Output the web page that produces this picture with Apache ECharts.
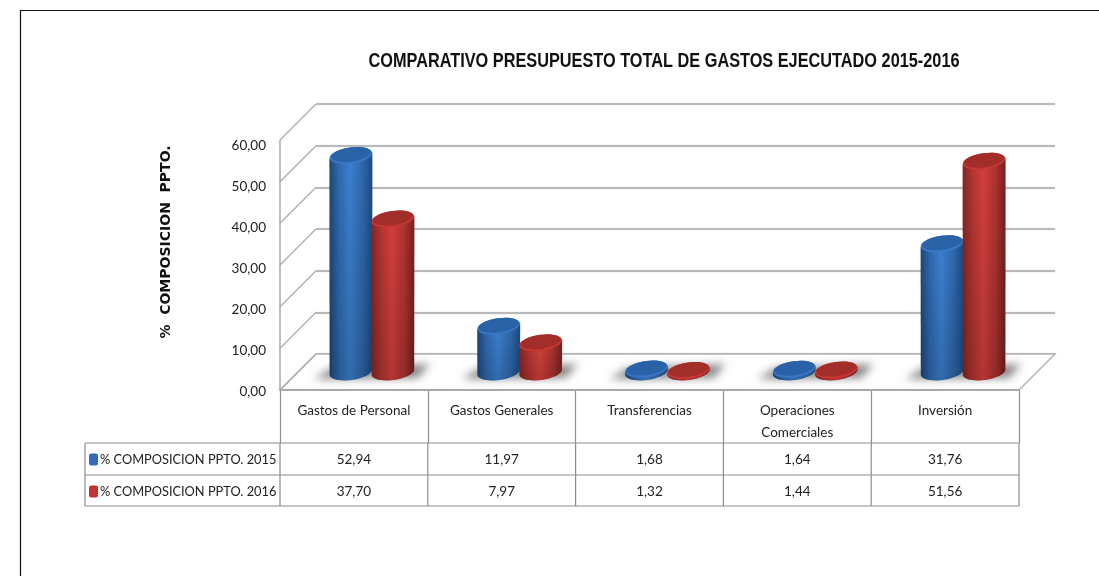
<!DOCTYPE html>
<html>
<head>
<meta charset="utf-8">
<style>html,body{margin:0;padding:0;background:#fff}#c{width:1099px;height:576px}</style>
<script src="https://cdn.jsdelivr.net/npm/echarts@6/dist/echarts.min.js"></script>
</head>
<body>
<div id="c"></div>
<script>
const titleText = 'COMPARATIVO PRESUPUESTO TOTAL DE GASTOS EJECUTADO 2015-2016';
const yAxisTitle = '%  COMPOSICION  PPTO.';
const categories = ['Gastos de Personal', 'Gastos Generales', 'Transferencias', 'Operaciones\nComerciales', 'Inversión'];
const seriesName2015 = '% COMPOSICION PPTO. 2015';
const seriesName2016 = '% COMPOSICION PPTO. 2016';
const values2015 = [52.94, 11.97, 1.68, 1.64, 31.76];
const values2016 = [37.70, 7.97, 1.32, 1.44, 51.56];
const yTicks = [0, 10, 20, 30, 40, 50, 60];

const GL = 280, GR = 1019, GT = 140, GB = 390;   // front plane
const DX = 36, DY = -36;                          // depth offset
const ROW = [443, 475, 506], LEGL = 85;
const FF = 'Lato,"Noto Sans",sans-serif';
const FS = 13.5;
const LINE = '#8c8c8c';
const fmt = v => v.toFixed(2).replace('.', ',');

const BLUE = {l:'#1c4777', a:'#2f69ae', m:'#3c80d0', b:'#2e67ab', r:'#1d4a80', top:'#2a62a8', rim:'#3877c4'};
const RED  = {l:'#842523', a:'#b23431', m:'#d3403c', b:'#ab3230', r:'#74201e', top:'#a22d29', rim:'#c63733'};
const RX = 21.5, RY = 8, TILT = 0.14;

function hGrad(c){
  return {type:'linear',x:0,y:0,x2:1,y2:0,colorStops:[
    {offset:0,color:c.l},{offset:.22,color:c.a},{offset:.48,color:c.m},{offset:.78,color:c.b},{offset:1,color:c.r}]};
}
function bodyOutline(cx, top, base){
  const pts = [[cx-RX, top + RX*Math.sin(TILT)]];
  const n = 24, cs = Math.cos(TILT), sn = Math.sin(TILT);
  for (let k = 0; k <= n; k++){
    const t = Math.PI * (1 - k/n);
    const a = RX * Math.cos(t), b = RY * Math.sin(t);
    pts.push([cx + a*cs + b*sn, base - a*sn + b*cs]);
  }
  pts.push([cx+RX, top - RX*sn]);
  return pts;
}
function cylinder(c, side){
  return function(params, api){
    const i = api.value(0), v = api.value(1);
    const cx = api.coord([i, 0])[0] + 18 + side * 21;
    const base = api.coord([i, 0])[1] - 18;
    const top = api.coord([i, v])[1] - 14;
    const ell = (cy, rx, ry, st) => ({type:'ellipse', shape:{cx, cy, rx, ry}, rotation:TILT, originX:cx, originY:cy, style:st});
    const pts = bodyOutline(cx, top, base);
    return {type:'group', children:[
      {type:'polygon', shape:{points:pts}, style:{fill:hGrad(c)}},
      {type:'polygon', shape:{points:pts},
        style:{fill:{type:'linear',x:0,y:0,x2:0,y2:1,colorStops:[{offset:0,color:'rgba(0,0,0,0)'},{offset:1,color:'rgba(0,0,0,0.16)'}]}}},
      ell(top, RX, RY, {fill:c.rim}),
      ell(top-0.9, RX-1.2, RY-1, {fill:c.top})
    ]};
  };
}
function shadow(params, api){
  const i = api.value(0);
  const cx = api.coord([i,0])[0] + 18;
  const y = api.coord([i,0])[1];
  const off = 3000;   // the shape is off canvas: only its blurred shadow lands on the floor
  return {type:'polygon', shape:{points:[[cx-58-off,y-11],[cx-40-off,y-22],[cx+58-off,y-26],[cx+46-off,y-12]]},
    style:{fill:'#000', shadowBlur:9, shadowOffsetX:off, shadowColor:'rgba(105,105,105,0.8)'}};
}
function floorAndWall(params, api){
  const s = params.coordSys;
  const x0 = s.x, x1 = s.x + s.width;
  const y0 = api.coord([0,0])[1];
  const kids = [
    {type:'polygon', shape:{points:[[x0,y0],[x0+DX,y0+DY],[x1+DX,y0+DY],[x1,y0]]},
      style:{fill:'#ffffff', stroke:'#b4b4b4', lineWidth:1.5}},
    {type:'line', shape:{x1:x0,y1:y0,x2:x1,y2:y0}, style:{stroke:'#a8a8a8', lineWidth:2}}
  ];
  yTicks.forEach(t => {
    const y = api.coord([0,t])[1];
    kids.push({type:'line', shape:{x1:x0,y1:y,x2:x0+DX,y2:y+DY}, style:{stroke:'#b0b0b0', lineWidth:1.5}});
  });
  kids.push({type:'line', shape:{x1:x0,y1:GT,x2:x0,y2:y0}, style:{stroke:'#a8a8a8', lineWidth:1.5}});
  return {type:'group', children:kids};
}
function table(params, api){
  const s = params.coordSys;
  const kids = [];
  const L = (a,b,c,d) => kids.push({type:'line', shape:{x1:a,y1:b,x2:c,y2:d}, style:{stroke:LINE, lineWidth:1.2}});
  const T = (t,x,y) => kids.push({type:'text', style:{text:t,x,y,align:'center',verticalAlign:'middle',textAlign:'center',textVerticalAlign:'middle',fontFamily:FF,fontSize:FS,fill:'#222'}});
  ROW.forEach(y => L(LEGL, y, s.x + s.width, y));
  L(LEGL, ROW[0], LEGL, ROW[2]);
  const bw = s.width / categories.length;
  for (let i = 0; i <= categories.length; i++) L(s.x + i*bw, ROW[0], s.x + i*bw, ROW[2]);
  categories.forEach((n, i) => {
    const cx = api.coord([i,0])[0];
    T(fmt(values2015[i]), cx, (ROW[0]+ROW[1])/2 + 1);
    T(fmt(values2016[i]), cx, (ROW[1]+ROW[2])/2 + 1);
  });
  return {type:'group', children:kids};
}

const chart = echarts.init(document.getElementById('c'), null, {renderer:'canvas'});
chart.setOption({
  animation:false,
  backgroundColor:'#ffffff',
  legend:{orient:'vertical', left:89, top:ROW[0]+10, itemGap:19, itemWidth:9, itemHeight:12, selectedMode:false,
    padding:0, data:[
      {name:seriesName2015, icon:'roundRect', itemStyle:{color:'#2f6db8'}},
      {name:seriesName2016, icon:'roundRect', itemStyle:{color:'#c4332f'}}],
    textStyle:{fontFamily:FF, fontSize:12.8, color:'#222', padding:[0,0,0,-3]}},
  graphic:[
    {type:'rect', shape:{x:20.5,y:10.5,width:1100,height:600}, style:{fill:'none',stroke:'#111',lineWidth:1.2}, silent:true},
    {type:'text', x:664, y:61, scaleX:0.776, style:{text:titleText, align:'center', verticalAlign:'middle',
      fontFamily:'"Liberation Sans",Arial,sans-serif', fontSize:21, fontWeight:'bold', fill:'#111'}, silent:true},
    {type:'text', x:166, y:242, rotation:Math.PI/2, style:{text:yAxisTitle, align:'center', verticalAlign:'middle',
      fontFamily:'"DejaVu Sans",sans-serif', fontSize:14, fontWeight:'bold', fill:'#111'}, silent:true}
  ],
  grid:[
    {left:GL, top:GT, width:GR-GL, height:GB-GT},
    {left:GL+DX, top:GT+DY, width:GR-GL, height:GB-GT},
    {left:GL, top:GT+6, width:GR-GL, height:GB-GT-4}
  ],
  xAxis:[
    {type:'category', gridIndex:0, data:categories,
      axisLine:{lineStyle:{color:'#a0a0a0',width:1}},
      axisTick:{show:true, length:ROW[0]-GB, lineStyle:{color:LINE, width:1.2}},
      axisLabel:{interval:0, margin:10, fontFamily:FF, fontSize:FS, color:'#222', lineHeight:22, verticalAlign:'top'}},
    {type:'category', gridIndex:1, data:categories, show:false},
    {type:'category', gridIndex:2, data:categories, show:false}
  ],
  yAxis:[
    {type:'value', gridIndex:0, min:0, max:60, interval:10, show:false, splitLine:{show:false}},
    {type:'value', gridIndex:1, min:0, max:60, interval:10,
      axisLine:{show:false}, axisTick:{show:false}, axisLabel:{show:false},
      splitLine:{show:true, lineStyle:{color:'#ababab', width:1.6, shadowBlur:1.5, shadowColor:'#cccccc'}}},
    {type:'value', gridIndex:2, min:0, max:60, interval:10,
      axisLine:{show:false}, axisTick:{show:false}, splitLine:{show:false},
      axisLabel:{margin:14, formatter:fmt, fontFamily:FF, fontSize:FS, color:'#222'}}
  ],
  series:[
    {type:'custom', name:'wall', xAxisIndex:0, yAxisIndex:0, z:3, silent:true, data:[[0,0]], renderItem:floorAndWall},
    {type:'custom', name:'shadow', xAxisIndex:0, yAxisIndex:0, z:4, silent:true, clip:false,
      data:values2015.map((v,i)=>[i, Math.max(v, values2016[i])]), renderItem:shadow},
    {type:'custom', name:seriesName2015, xAxisIndex:0, yAxisIndex:0, z:5,
      data:values2015.map((v,i)=>[i,v]), renderItem:cylinder(BLUE,-1)},
    {type:'custom', name:seriesName2016, xAxisIndex:0, yAxisIndex:0, z:6,
      data:values2016.map((v,i)=>[i,v]), renderItem:cylinder(RED,1)},
    {type:'custom', name:'table', xAxisIndex:0, yAxisIndex:0, z:7, silent:true, data:[[0,0]], renderItem:table}
  ]
});
</script>
</body>
</html>
